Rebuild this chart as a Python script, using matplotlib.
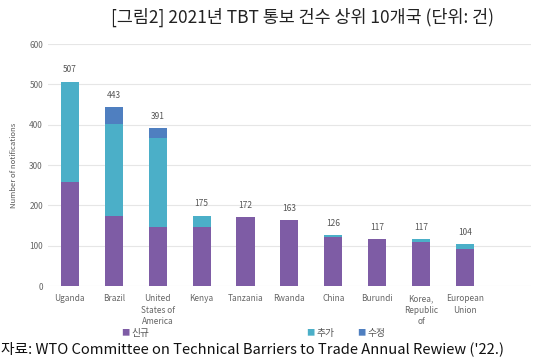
import numpy as np
import matplotlib.pyplot as plt

plt.rcParams['font.family'] = ['Noto Sans CJK KR', 'DejaVu Sans']

countries = ['Uganda', 'Brazil', 'United\nStates of\nAmerica', 'Kenya', 'Tanzania',
             'Rwanda', 'China', 'Burundi', 'Korea,\nRepublic\nof', 'European\nUnion']
new = [257, 175, 147, 146, 172, 163, 122, 117, 110, 93]
addenda = [250, 227, 220, 29, 0, 0, 4, 0, 7, 11]
corrig = [0, 41, 24, 0, 0, 0, 0, 0, 0, 0]
totals = [507, 443, 391, 175, 172, 163, 126, 117, 117, 104]
legend_labels = ['신규', '추가', '수정']
colors = ['#7E5CA5', '#4BAFC8', '#4F7FC0']

fig = plt.figure(figsize=(5.37, 3.59), dpi=100)
ax = fig.add_axes([0.089, 0.203, 0.9, 0.674])

x = np.arange(len(countries))
w = 0.41
new = np.array(new)
addenda = np.array(addenda)
corrig = np.array(corrig)
b1 = ax.bar(x, new, w, color=colors[0], label=legend_labels[0], zorder=2)
b2 = ax.bar(x, addenda, w, bottom=new, color=colors[1], label=legend_labels[1], zorder=2)
b3 = ax.bar(x, corrig, w, bottom=new + addenda, color=colors[2], label=legend_labels[2], zorder=2)

for xi, t in zip(x, totals):
    ax.text(xi, t + 18, str(t), ha='center', va='bottom', fontsize=6, color='#555555')

ax.set_xlim(-0.5, 10.5)
ax.set_ylim(0, 600)
ax.set_yticks(range(0, 601, 100))
ax.yaxis.grid(True, color='#e6e6e6', linewidth=0.8, zorder=0)
for s in ax.spines.values():
    s.set_visible(False)
ax.tick_params(length=0, labelsize=6, colors='#666666')
ax.tick_params(axis='x', pad=6)
ax.set_xticks(x)
ax.set_xticklabels(countries, fontsize=6, color='#666666', linespacing=1.3)
ax.set_ylabel('Number of notifications', fontsize=5.5, color='#555555', labelpad=8)

fig.text(0.563, 0.952, '[그림2] 2021년 TBT 통보 건수 상위 10개국 (단위: 건)',
         ha='center', va='center', fontsize=12.5, color='#222222')

xs = [0.225, 0.57, 0.665]
for lab, xp, c in zip(legend_labels, xs, colors):
    fig.text(xp, 0.072, '■', color=c, fontsize=6, ha='left', va='center')
    fig.text(xp + 0.02, 0.072, lab, color='#555555', fontsize=7, ha='left', va='center')

fig.text(0.002, 0.028, "자료: WTO Committee on Technical Barriers to Trade Annual Rewiew ('22.)",
         ha='left', va='center', fontsize=10.6, color='#111111')

fig.savefig('out.png', dpi=100)
